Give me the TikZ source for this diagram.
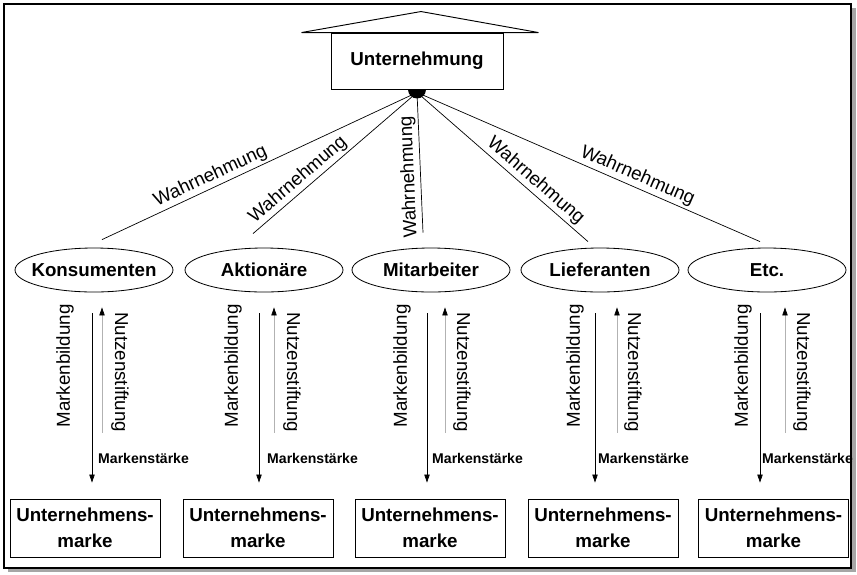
\documentclass[tikz,border=0pt]{standalone}
\usepackage{fontspec}
\setmainfont{Liberation Sans}
\usetikzlibrary{shapes.geometric,arrows.meta,calc}

\begin{document}
\begin{tikzpicture}[
    x=0.03cm, y=-0.03cm,
    firm/.style={rectangle, draw, line width=0.8pt, fill=white, minimum width=5.16cm, minimum height=1.68cm, font=\bfseries\fontsize{16}{19}\selectfont},
    roof/.style={draw, line width=0.8pt, fill=white},
    stakeholder/.style={ellipse, draw, line width=0.7pt, minimum width=4.74cm, minimum height=1.32cm, inner xsep=-7pt, inner ysep=0pt, font=\bfseries\fontsize{16}{19}\selectfont},
    brand/.style={rectangle, draw, line width=0.7pt, minimum width=4.5cm, minimum height=1.74cm, align=center, font=\bfseries\fontsize{16}{22}\selectfont},
    link/.style={line width=0.6pt},
    perception/.style={sloped, above, inner sep=2pt, font=\fontsize{16}{19}\selectfont},
    buildarrow/.style={line width=0.6pt, -{Triangle[length=2.4mm, width=1.6mm]}},
    benefitarrow/.style={line width=0.6pt, draw=gray!60, -{Triangle[length=2.4mm, width=1.6mm, color=black]}},
    buildlabel/.style={rotate=90, inner sep=0pt, font=\fontsize{16}{19}\selectfont},
    benefitlabel/.style={rotate=-90, inner sep=0pt, font=\fontsize{16}{19}\selectfont},
    strength/.style={anchor=west, inner sep=0pt, font=\bfseries\fontsize{12}{14}\selectfont}
]
    \useasboundingbox (0,0) rectangle (857,574);

    % frame with shadow
    \fill[gray!70] (8,8) rectangle (856,572);
    \draw[line width=0.9pt, fill=white] (4,4) rectangle (851,568);

    % company with roof
    \node[firm] (firm) at (417,61) {Unternehmung};
    \draw[roof] ($(firm.north west)+(-29,0)$) -- ($(firm.north)+(4,-21)$) -- ($(firm.north east)+(35,0)$) -- cycle;
    \fill (firm.south) ++(-9,0) arc[start angle=180, end angle=0, radius=9];
    \coordinate (hub) at ($(firm.south)+(0,3)$);

    % stakeholder groups
    \node[stakeholder] (kon) at (94,270) {Konsumenten};
    \node[stakeholder] (akt) at (264,270) {Aktionäre};
    \node[stakeholder] (mit) at (431,270) {Mitarbeiter};
    \node[stakeholder] (lief) at (600,270) {Lieferanten};
    \node[stakeholder] (etc) at (767,270) {Etc.};

    % corporate brands
    \node[brand] (ub1) at (85,528) {Unternehmens-\\marke};
    \node[brand] (ub2) at (258,528) {Unternehmens-\\marke};
    \node[brand] (ub3) at (430,528) {Unternehmens-\\marke};
    \node[brand] (ub4) at (603,528) {Unternehmens-\\marke};
    \node[brand] (ub5) at (773.5,528) {Unternehmens-\\marke};

    % perception
    \draw[link] (hub) -- node[perception, pos=0.64] {Wahrnehmung} ($(kon.north)+(8,-8)$);
    \draw[link] (hub) -- node[perception, pos=0.68] {Wahrnehmung} ($(akt.north)+(-11,-14)$);
    \draw[link] ($(mit.north)+(-8,-15)$) -- node[perception, allow upside down, pos=0.4] {Wahrnehmung} (hub);
    \draw[link] (hub) -- node[perception, pos=0.65] {Wahrnehmung} ($(lief.north)+(-12,-6)$);
    \draw[link] (hub) -- node[perception, pos=0.63] {Wahrnehmung} ($(etc.north)+(-7,-6)$);

    % brand building and benefit
    \draw[buildarrow] ($(kon.south)+(-2,21)$) -- ($(kon.south |- ub1.north)+(-2,-16)$);
    \draw[benefitarrow] ($(kon.south |- ub1.north)+(8,-66)$) -- ($(kon.south)+(8,15)$);
    \draw[buildarrow] ($(akt.south)+(-5,21)$) -- ($(akt.south |- ub2.north)+(-5,-16)$);
    \draw[benefitarrow] ($(akt.south |- ub2.north)+(10,-66)$) -- ($(akt.south)+(10,15)$);
    \draw[buildarrow] ($(mit.south)+(-4,21)$) -- ($(mit.south |- ub3.north)+(-4,-16)$);
    \draw[benefitarrow] ($(mit.south |- ub3.north)+(14,-66)$) -- ($(mit.south)+(14,15)$);
    \draw[buildarrow] ($(lief.south)+(-5,21)$) -- ($(lief.south |- ub4.north)+(-5,-16)$);
    \draw[benefitarrow] ($(lief.south |- ub4.north)+(17,-66)$) -- ($(lief.south)+(17,15)$);
    \draw[buildarrow] ($(etc.south)+(-7,21)$) -- ($(etc.south |- ub5.north)+(-7,-16)$);
    \draw[benefitarrow] ($(etc.south |- ub5.north)+(18,-66)$) -- ($(etc.south)+(18,15)$);

    \node[buildlabel] (mb1) at (65,366) {Markenbildung};
    \node[buildlabel] (mb2) at (233,366) {Markenbildung};
    \node[buildlabel] (mb3) at (402,366) {Markenbildung};
    \node[buildlabel] (mb4) at (575,366) {Markenbildung};
    \node[buildlabel] (mb5) at (743,366) {Markenbildung};

    \node[benefitlabel] (ns1) at (120,372) {Nutzenstiftung};
    \node[benefitlabel] (ns2) at (292,372) {Nutzenstiftung};
    \node[benefitlabel] (ns3) at (462,372) {Nutzenstiftung};
    \node[benefitlabel] (ns4) at (633,372) {Nutzenstiftung};
    \node[benefitlabel] (ns5) at (802,372) {Nutzenstiftung};

    \node[strength] (ms1) at (98,458) {Markenstärke};
    \node[strength] (ms2) at (267,458) {Markenstärke};
    \node[strength] (ms3) at (432,458) {Markenstärke};
    \node[strength] (ms4) at (598,458) {Markenstärke};
    \node[strength] (ms5) at (762,458) {Markenstärke};
\end{tikzpicture}
\end{document}
